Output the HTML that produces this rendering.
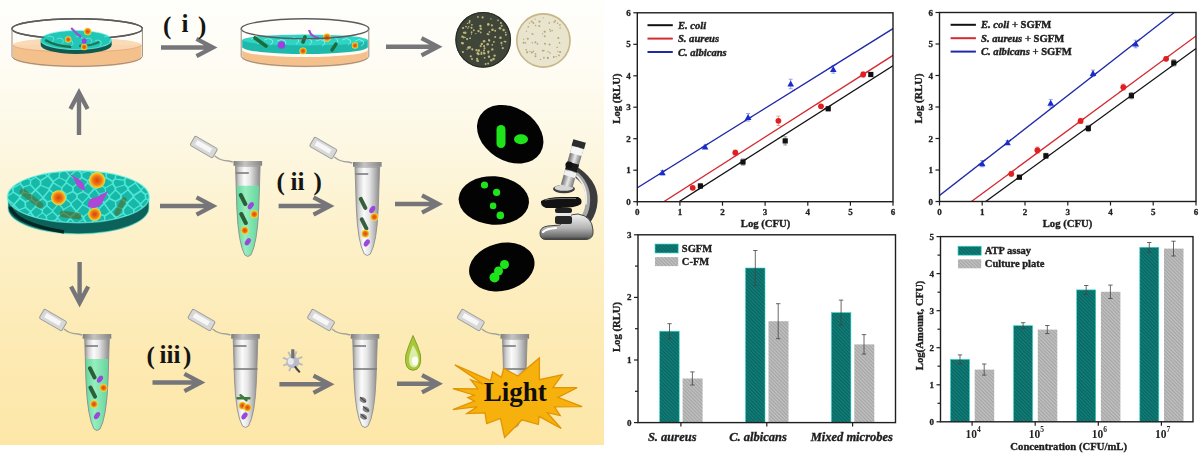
<!DOCTYPE html><html><head><meta charset="utf-8"><style>
html,body{margin:0;padding:0;background:#fff;width:1200px;height:453px;overflow:hidden}
svg{display:block;filter:blur(0.4px)}
text{font-family:"Liberation Serif", serif;}
.tk{font-size:9px;font-weight:bold;fill:#222;stroke:#222;stroke-width:0.3px}
.lg{font-size:10.6px;font-weight:bold;font-style:italic;fill:#1e1e1e;stroke:#1e1e1e;stroke-width:0.4px}
.lg .n{font-style:normal}
.lg2{font-size:10.5px;font-weight:bold;fill:#1e1e1e;stroke:#1e1e1e;stroke-width:0.35px}
.al{font-size:10.7px;font-weight:bold;fill:#1e1e1e;stroke:#1e1e1e;stroke-width:0.35px}
.cat{font-size:12.5px;font-weight:bold;font-style:italic;fill:#1e1e1e;stroke:#1e1e1e;stroke-width:0.35px}
</style></head><body>
<svg width="1200" height="453" viewBox="0 0 1200 453">
<defs>
<linearGradient id="bg" x1="0" y1="0" x2="0" y2="1">
<stop offset="0" stop-color="#fefefb"/><stop offset="0.15" stop-color="#fefcf3"/><stop offset="0.315" stop-color="#fdf8e4"/><stop offset="0.517" stop-color="#fdf1ca"/><stop offset="0.742" stop-color="#fdebb6"/><stop offset="1" stop-color="#fde7a8"/>
</linearGradient>
<pattern id="hatchT" width="2.5" height="4" patternUnits="userSpaceOnUse" patternTransform="rotate(-45)">
<rect width="2.5" height="4" fill="#107d78"/><rect width="1" height="4" fill="#0b625d"/>
</pattern>
<pattern id="hatchG" width="2.5" height="4" patternUnits="userSpaceOnUse" patternTransform="rotate(-45)">
<rect width="2.5" height="4" fill="#bfbfbf"/><rect width="1" height="4" fill="#a3a3a3"/>
</pattern>
<linearGradient id="tubeG" x1="0" y1="0" x2="1" y2="0">
<stop offset="0" stop-color="#949494"/><stop offset="0.15" stop-color="#cfcfcf"/><stop offset="0.36" stop-color="#fbfbfb"/><stop offset="0.58" stop-color="#e6e6e6"/><stop offset="0.85" stop-color="#acacac"/><stop offset="1" stop-color="#888888"/>
</linearGradient>
<linearGradient id="liqG" x1="0" y1="0" x2="1" y2="0">
<stop offset="0" stop-color="#5fd597"/><stop offset="0.4" stop-color="#95eebd"/><stop offset="1" stop-color="#62d39a"/>
</linearGradient>
<linearGradient id="rimG" x1="0" y1="0" x2="1" y2="0"><stop offset="0" stop-color="#7e7e7e"/><stop offset="0.4" stop-color="#c4c4c4"/><stop offset="1" stop-color="#848484"/></linearGradient>
<radialGradient id="orgO"><stop offset="0" stop-color="#d8400e"/><stop offset="0.55" stop-color="#ef7a12"/><stop offset="0.8" stop-color="#f6b41e"/><stop offset="1" stop-color="#e6e650"/></radialGradient>
</defs>
<rect x="0" y="0" width="604" height="445" fill="url(#bg)"/>
<polygon points="161.0,45.3 204.1,45.3 195.5,40.8 197.5,37.0 217.5,47.5 197.5,58.0 195.5,54.2 204.1,49.7 161.0,49.7" fill="#76767a"/>
<polygon points="386.0,44.5 429.1,44.5 420.5,40.0 422.5,36.2 442.5,46.7 422.5,57.2 420.5,53.4 429.1,48.9 386.0,48.9" fill="#76767a"/>
<polygon points="76.8,135.0 76.8,101.4 72.3,110.0 68.5,108.0 79.0,88.0 89.5,108.0 85.7,110.0 81.2,101.4 81.2,135.0" fill="#76767a"/>
<polygon points="160.0,203.8 204.1,203.8 195.5,199.3 197.5,195.5 217.5,206.0 197.5,216.5 195.5,212.7 204.1,208.2 160.0,208.2" fill="#76767a"/>
<polygon points="278.6,203.8 321.1,203.8 312.5,199.3 314.5,195.5 334.5,206.0 314.5,216.5 312.5,212.7 321.1,208.2 278.6,208.2" fill="#76767a"/>
<polygon points="395.0,201.8 429.6,201.8 421.0,197.3 423.0,193.5 443.0,204.0 423.0,214.5 421.0,210.7 429.6,206.2 395.0,206.2" fill="#76767a"/>
<polygon points="77.4,262.0 77.4,294.0 72.9,285.4 69.1,287.4 79.6,307.4 90.1,287.4 86.3,285.4 81.8,294.0 81.8,262.0" fill="#76767a"/>
<polygon points="152.5,380.3 192.0,380.3 183.4,375.8 185.4,372.0 205.4,382.5 185.4,393.0 183.4,389.2 192.0,384.7 152.5,384.7" fill="#76767a"/>
<polygon points="279.4,382.1 321.1,382.1 312.5,377.6 314.5,373.8 334.5,384.3 314.5,394.8 312.5,391.0 321.1,386.5 279.4,386.5" fill="#76767a"/>
<polygon points="397.0,381.6 429.6,381.6 421.0,377.1 423.0,373.3 443.0,383.8 423.0,394.3 421.0,390.5 429.6,386.0 397.0,386.0" fill="#76767a"/>
<text x="163.0" y="33.5" style="font-size:25px;font-weight:bold;fill:#141414">(</text>
<text x="181.5" y="32" style="font-size:25px;font-weight:bold;fill:#141414">i</text>
<text x="198.0" y="33.5" style="font-size:25px;font-weight:bold;fill:#141414">)</text>
<text x="276.5" y="190" style="font-size:25px;font-weight:bold;fill:#141414">(</text>
<text x="290.5" y="189.5" style="font-size:25px;font-weight:bold;fill:#141414">ii</text>
<text x="313.5" y="190" style="font-size:25px;font-weight:bold;fill:#141414">)</text>
<text x="146.5" y="364" style="font-size:25px;font-weight:bold;fill:#141414">(</text>
<text x="159.5" y="362.5" style="font-size:25px;font-weight:bold;fill:#141414">iii</text>
<text x="183.0" y="364" style="font-size:25px;font-weight:bold;fill:#141414">)</text>
<g>
<path d="M13.0,45V57.4A64.2,9.9 0 0 0 141.4,57.4V45Z" fill="#f4c08c"/>
<ellipse cx="77.2" cy="45" rx="64.2" ry="7" fill="#fad6b0"/>
<ellipse cx="77.2" cy="28.7" rx="64.2" ry="9.9" fill="#fffefb"/>
<path d="M13.0,45A64.2,7 0 0 1 141.4,45" fill="#fadbb8"/>
<path d="M13.0,45A64.2,7 0 0 0 141.4,45" fill="none" stroke="#e9ad7c" stroke-width="1"/>
<ellipse cx="77.2" cy="28.7" rx="65.2" ry="9.9" fill="none" stroke="#5c5c5c" stroke-width="1.4"/>
<path d="M40.7,40V45A35.5,9 0 0 0 111.7,45V40Z" fill="#0f5a50"/>
<ellipse cx="76.2" cy="40" rx="35.5" ry="9.5" fill="#20c6b6"/>
<ellipse cx="76.2" cy="40" rx="35.5" ry="9.5" fill="none" stroke="#7df2e6" stroke-width="1.2" opacity="0.7"/>
<path d="M47.2,37 q3,-2 6,0 q2,3 -1,5" stroke="#86f3ea" stroke-width="0.9" fill="none" opacity="0.7"/>
<path d="M56.7,39 q3,-2 6,0 q2,3 -1,5" stroke="#86f3ea" stroke-width="0.9" fill="none" opacity="0.7"/>
<path d="M66.2,41 q3,-2 6,0 q2,3 -1,5" stroke="#86f3ea" stroke-width="0.9" fill="none" opacity="0.7"/>
<path d="M75.7,37 q3,-2 6,0 q2,3 -1,5" stroke="#86f3ea" stroke-width="0.9" fill="none" opacity="0.7"/>
<path d="M85.2,39 q3,-2 6,0 q2,3 -1,5" stroke="#86f3ea" stroke-width="0.9" fill="none" opacity="0.7"/>
<path d="M94.7,41 q3,-2 6,0 q2,3 -1,5" stroke="#86f3ea" stroke-width="0.9" fill="none" opacity="0.7"/>
<path d="M104.2,37 q3,-2 6,0 q2,3 -1,5" stroke="#86f3ea" stroke-width="0.9" fill="none" opacity="0.7"/>
<path d="M45.2,40 q10,6 26,7" stroke="#1c5a33" stroke-width="2.4" fill="none" opacity="0.8"/>
<path d="M79.2,46 q12,0 20,-4" stroke="#1c5a33" stroke-width="2.4" fill="none" opacity="0.7"/>
<circle cx="87.7" cy="31.5" r="3.8" fill="url(#orgO)"/>
<circle cx="68.2" cy="39.5" r="3.2" fill="url(#orgO)"/>
<circle cx="84.2" cy="47" r="3.2" fill="url(#orgO)"/>
<path d="M71.2,28 l6,6 l4,3" stroke="#9a50d8" stroke-width="2.2" fill="none"/>
<circle cx="84.2" cy="41" r="2.6" fill="#9b40e0"/>
<path d="M12.0,28.7A65.2,9.9 0 0 1 142.4,28.7" fill="none" stroke="#5c5c5c" stroke-width="1.4"/>
<path d="M12.0,28.7A65.2,9.9 0 0 0 44.2,37.4M142.4,28.7A65.2,9.9 0 0 1 109.2,37.6" fill="none" stroke="#5c5c5c" stroke-width="1.4"/>
<path d="M12.0,28.7V56.4A65.2,9.9 0 0 0 142.4,56.4V28.7" fill="none" stroke="#9a8c80" stroke-width="1"/>
</g>
<g>
<path d="M242.2,45V57.4A62.8,9.9 0 0 0 367.8,57.4V45Z" fill="#f4c08c"/>
<ellipse cx="305" cy="45" rx="62.8" ry="7" fill="#fad6b0"/>
<path d="M242.2,28.7V50A62.8,7 0 0 0 367.8,50V28.7A62.8,9.9 0 0 1 242.2,28.7Z" fill="#fffdf8" opacity="0.95"/>
<ellipse cx="305" cy="28.7" rx="62.8" ry="9.9" fill="#fffefb"/>
<path d="M242.2,40V47A62.8,7 0 0 0 367.8,47V40Z" fill="#1fb9ab"/>
<ellipse cx="305" cy="40" rx="62.8" ry="5.5" fill="#2fd4c4"/>
<path d="M251.2,39 q4,-3 8,0 q2,3 -2,5" stroke="#8ff5ec" stroke-width="1" fill="none" opacity="0.8"/>
<path d="M264.2,40 q4,-3 8,0 q2,3 -2,5" stroke="#8ff5ec" stroke-width="1" fill="none" opacity="0.8"/>
<path d="M277.2,41 q4,-3 8,0 q2,3 -2,5" stroke="#8ff5ec" stroke-width="1" fill="none" opacity="0.8"/>
<path d="M290.2,39 q4,-3 8,0 q2,3 -2,5" stroke="#8ff5ec" stroke-width="1" fill="none" opacity="0.8"/>
<path d="M303.2,40 q4,-3 8,0 q2,3 -2,5" stroke="#8ff5ec" stroke-width="1" fill="none" opacity="0.8"/>
<path d="M316.2,41 q4,-3 8,0 q2,3 -2,5" stroke="#8ff5ec" stroke-width="1" fill="none" opacity="0.8"/>
<path d="M329.2,39 q4,-3 8,0 q2,3 -2,5" stroke="#8ff5ec" stroke-width="1" fill="none" opacity="0.8"/>
<path d="M342.2,40 q4,-3 8,0 q2,3 -2,5" stroke="#8ff5ec" stroke-width="1" fill="none" opacity="0.8"/>
<path d="M355.2,41 q4,-3 8,0 q2,3 -2,5" stroke="#8ff5ec" stroke-width="1" fill="none" opacity="0.8"/>
<circle cx="327" cy="37.5" r="4.2" fill="url(#orgO)"/>
<circle cx="303" cy="51" r="3.6" fill="url(#orgO)"/>
<circle cx="355" cy="45.5" r="3.2" fill="url(#orgO)"/>
<circle cx="281.5" cy="45" r="3.8" fill="#9b3fe0"/>
<path d="M309,30 q2,7 10,8" stroke="#a448d8" stroke-width="2.2" fill="none"/>
<path d="M255,38 l11,8" stroke="#1c6b38" stroke-width="3.6" stroke-linecap="round"/>
<path d="M303,42 l2,-5" stroke="#1c6b38" stroke-width="3.6" stroke-linecap="round"/>
<path d="M332,50 l4,-6" stroke="#1c6b38" stroke-width="3.4" stroke-linecap="round"/>
<ellipse cx="305" cy="28.7" rx="63.8" ry="9.9" fill="none" stroke="#5c5c5c" stroke-width="1.4"/>
<path d="M241.2,28.7V56.4A63.8,9.9 0 0 0 368.8,56.4V28.7" fill="none" stroke="#9a8c80" stroke-width="1"/>
</g>
<circle cx="483.2" cy="39.8" r="27.8" fill="#40453a"/>
<circle cx="483.2" cy="39.8" r="27.3" fill="none" stroke="#2a2d26" stroke-width="1.2"/>
<circle cx="543.4" cy="40.5" r="27.3" fill="#e8e4cd"/>
<circle cx="543.4" cy="40.5" r="26.6" fill="none" stroke="#c8b688" stroke-width="1.6"/>
<circle cx="484.6" cy="57.8" r="0.9" fill="#c9c27c" opacity="0.9"/>
<circle cx="467.8" cy="28.0" r="0.7" fill="#c9c27c" opacity="0.9"/>
<circle cx="505.5" cy="41.7" r="0.9" fill="#c9c27c" opacity="0.9"/>
<circle cx="485.6" cy="64.1" r="1.0" fill="#c9c27c" opacity="0.9"/>
<circle cx="491.9" cy="25.3" r="1.1" fill="#c9c27c" opacity="0.9"/>
<circle cx="494.6" cy="55.6" r="1.2" fill="#c9c27c" opacity="0.9"/>
<circle cx="462.3" cy="36.7" r="1.1" fill="#c9c27c" opacity="0.9"/>
<circle cx="502.8" cy="48.2" r="1.1" fill="#c9c27c" opacity="0.9"/>
<circle cx="481.8" cy="43.9" r="1.2" fill="#c9c27c" opacity="0.9"/>
<circle cx="462.7" cy="43.3" r="1.2" fill="#c9c27c" opacity="0.9"/>
<circle cx="477.9" cy="16.9" r="0.9" fill="#c9c27c" opacity="0.9"/>
<circle cx="488.3" cy="24.3" r="1.3" fill="#c9c27c" opacity="0.9"/>
<circle cx="488.7" cy="34.5" r="0.8" fill="#c9c27c" opacity="0.9"/>
<circle cx="488.2" cy="63.4" r="1.0" fill="#c9c27c" opacity="0.9"/>
<circle cx="473.8" cy="30.2" r="1.0" fill="#c9c27c" opacity="0.9"/>
<circle cx="472.3" cy="49.3" r="1.1" fill="#c9c27c" opacity="0.9"/>
<circle cx="463.1" cy="28.0" r="1.1" fill="#c9c27c" opacity="0.9"/>
<circle cx="503.6" cy="30.0" r="1.3" fill="#c9c27c" opacity="0.9"/>
<circle cx="478.5" cy="31.1" r="1.2" fill="#c9c27c" opacity="0.9"/>
<circle cx="505.9" cy="34.7" r="1.0" fill="#c9c27c" opacity="0.9"/>
<circle cx="480.7" cy="28.8" r="1.2" fill="#c9c27c" opacity="0.9"/>
<circle cx="471.5" cy="34.0" r="0.7" fill="#c9c27c" opacity="0.9"/>
<circle cx="498.0" cy="20.4" r="0.8" fill="#c9c27c" opacity="0.9"/>
<circle cx="488.1" cy="24.9" r="0.8" fill="#c9c27c" opacity="0.9"/>
<circle cx="477.4" cy="60.5" r="1.2" fill="#c9c27c" opacity="0.9"/>
<circle cx="501.7" cy="45.1" r="0.7" fill="#c9c27c" opacity="0.9"/>
<circle cx="480.4" cy="26.0" r="1.2" fill="#c9c27c" opacity="0.9"/>
<circle cx="500.5" cy="37.7" r="1.3" fill="#c9c27c" opacity="0.9"/>
<circle cx="480.7" cy="46.1" r="1.1" fill="#c9c27c" opacity="0.9"/>
<circle cx="493.9" cy="41.9" r="0.9" fill="#c9c27c" opacity="0.9"/>
<circle cx="475.8" cy="33.6" r="0.7" fill="#c9c27c" opacity="0.9"/>
<circle cx="492.5" cy="29.7" r="1.3" fill="#c9c27c" opacity="0.9"/>
<circle cx="495.2" cy="30.7" r="1.0" fill="#c9c27c" opacity="0.9"/>
<circle cx="463.7" cy="37.3" r="1.1" fill="#c9c27c" opacity="0.9"/>
<circle cx="465.2" cy="32.8" r="1.3" fill="#c9c27c" opacity="0.9"/>
<circle cx="467.1" cy="39.1" r="1.1" fill="#c9c27c" opacity="0.9"/>
<circle cx="484.2" cy="53.2" r="1.3" fill="#c9c27c" opacity="0.9"/>
<circle cx="465.2" cy="37.4" r="0.7" fill="#c9c27c" opacity="0.9"/>
<circle cx="467.1" cy="49.3" r="0.7" fill="#c9c27c" opacity="0.9"/>
<circle cx="468.7" cy="26.8" r="0.7" fill="#c9c27c" opacity="0.9"/>
<circle cx="471.5" cy="27.8" r="1.1" fill="#c9c27c" opacity="0.9"/>
<circle cx="470.8" cy="56.3" r="1.1" fill="#c9c27c" opacity="0.9"/>
<circle cx="489.2" cy="40.6" r="1.1" fill="#c9c27c" opacity="0.9"/>
<circle cx="495.2" cy="37.0" r="1.0" fill="#c9c27c" opacity="0.9"/>
<circle cx="471.6" cy="32.2" r="0.9" fill="#c9c27c" opacity="0.9"/>
<circle cx="477.5" cy="53.5" r="1.1" fill="#c9c27c" opacity="0.9"/>
<circle cx="478.5" cy="54.1" r="1.2" fill="#c9c27c" opacity="0.9"/>
<circle cx="501.4" cy="42.9" r="1.1" fill="#c9c27c" opacity="0.9"/>
<circle cx="478.9" cy="50.5" r="1.2" fill="#c9c27c" opacity="0.9"/>
<circle cx="484.0" cy="50.4" r="1.0" fill="#c9c27c" opacity="0.9"/>
<circle cx="480.7" cy="32.4" r="0.9" fill="#c9c27c" opacity="0.9"/>
<circle cx="472.0" cy="59.1" r="1.0" fill="#c9c27c" opacity="0.9"/>
<circle cx="489.4" cy="31.9" r="0.9" fill="#c9c27c" opacity="0.9"/>
<circle cx="469.7" cy="21.1" r="1.0" fill="#c9c27c" opacity="0.9"/>
<circle cx="484.5" cy="48.2" r="1.0" fill="#c9c27c" opacity="0.9"/>
<circle cx="491.2" cy="60.3" r="1.2" fill="#c9c27c" opacity="0.9"/>
<circle cx="488.4" cy="51.6" r="1.2" fill="#c9c27c" opacity="0.9"/>
<circle cx="469.4" cy="22.7" r="0.9" fill="#c9c27c" opacity="0.9"/>
<circle cx="492.3" cy="49.4" r="1.2" fill="#c9c27c" opacity="0.9"/>
<circle cx="481.3" cy="54.1" r="1.0" fill="#c9c27c" opacity="0.9"/>
<circle cx="469.5" cy="47.4" r="1.3" fill="#c9c27c" opacity="0.9"/>
<circle cx="484.1" cy="41.2" r="1.3" fill="#c9c27c" opacity="0.9"/>
<circle cx="500.9" cy="23.1" r="1.0" fill="#c9c27c" opacity="0.9"/>
<circle cx="505.6" cy="32.5" r="0.8" fill="#c9c27c" opacity="0.9"/>
<circle cx="482.6" cy="17.4" r="1.1" fill="#c9c27c" opacity="0.9"/>
<circle cx="470.1" cy="38.2" r="0.9" fill="#c9c27c" opacity="0.9"/>
<circle cx="484.1" cy="46.1" r="1.1" fill="#c9c27c" opacity="0.9"/>
<circle cx="478.1" cy="61.3" r="0.7" fill="#c9c27c" opacity="0.9"/>
<circle cx="500.0" cy="28.2" r="1.3" fill="#c9c27c" opacity="0.9"/>
<circle cx="501.7" cy="25.7" r="1.0" fill="#c9c27c" opacity="0.9"/>
<circle cx="504.3" cy="41.5" r="0.8" fill="#c9c27c" opacity="0.9"/>
<circle cx="477.1" cy="58.8" r="1.0" fill="#c9c27c" opacity="0.9"/>
<circle cx="462.9" cy="52.0" r="1.1" fill="#c9c27c" opacity="0.9"/>
<circle cx="476.5" cy="50.1" r="1.2" fill="#c9c27c" opacity="0.9"/>
<circle cx="461.8" cy="42.9" r="0.9" fill="#c9c27c" opacity="0.9"/>
<circle cx="489.0" cy="56.7" r="1.2" fill="#c9c27c" opacity="0.9"/>
<circle cx="493.5" cy="59.0" r="1.3" fill="#c9c27c" opacity="0.9"/>
<circle cx="490.9" cy="18.9" r="0.7" fill="#c9c27c" opacity="0.9"/>
<circle cx="467.5" cy="23.4" r="0.7" fill="#c9c27c" opacity="0.9"/>
<circle cx="481.5" cy="52.4" r="1.0" fill="#c9c27c" opacity="0.9"/>
<circle cx="468.3" cy="47.6" r="1.2" fill="#c9c27c" opacity="0.9"/>
<circle cx="488.9" cy="39.9" r="0.8" fill="#c9c27c" opacity="0.9"/>
<circle cx="487.7" cy="44.3" r="1.3" fill="#c9c27c" opacity="0.9"/>
<circle cx="487.6" cy="34.1" r="1.0" fill="#c9c27c" opacity="0.9"/>
<circle cx="477.7" cy="52.4" r="0.9" fill="#c9c27c" opacity="0.9"/>
<circle cx="471.9" cy="24.8" r="0.9" fill="#c9c27c" opacity="0.9"/>
<circle cx="488.3" cy="52.9" r="0.8" fill="#c9c27c" opacity="0.9"/>
<circle cx="463.7" cy="32.7" r="0.9" fill="#c9c27c" opacity="0.9"/>
<circle cx="492.3" cy="44.8" r="0.9" fill="#c9c27c" opacity="0.9"/>
<circle cx="466.0" cy="26.6" r="0.9" fill="#c9c27c" opacity="0.9"/>
<circle cx="549.3" cy="22.9" r="0.8" fill="#b0a070" opacity="0.9"/>
<circle cx="531.9" cy="52.4" r="1.0" fill="#b0a070" opacity="0.9"/>
<circle cx="526.2" cy="49.9" r="0.8" fill="#b0a070" opacity="0.9"/>
<circle cx="543.9" cy="57.7" r="0.9" fill="#b0a070" opacity="0.9"/>
<circle cx="557.2" cy="47.2" r="0.8" fill="#b0a070" opacity="0.9"/>
<circle cx="559.9" cy="24.9" r="0.8" fill="#b0a070" opacity="0.9"/>
<circle cx="560.1" cy="28.0" r="0.7" fill="#b0a070" opacity="0.9"/>
<circle cx="535.4" cy="42.3" r="1.0" fill="#b0a070" opacity="0.9"/>
<circle cx="531.8" cy="21.6" r="1.0" fill="#b0a070" opacity="0.9"/>
<circle cx="533.4" cy="23.0" r="0.9" fill="#b0a070" opacity="0.9"/>
<circle cx="557.8" cy="51.4" r="0.6" fill="#b0a070" opacity="0.9"/>
<circle cx="556.2" cy="56.7" r="0.6" fill="#b0a070" opacity="0.9"/>
<circle cx="549.6" cy="44.5" r="1.0" fill="#b0a070" opacity="0.9"/>
<circle cx="545.0" cy="43.8" r="1.0" fill="#b0a070" opacity="0.9"/>
<circle cx="559.0" cy="55.4" r="0.9" fill="#b0a070" opacity="0.9"/>
<circle cx="555.2" cy="20.8" r="0.9" fill="#b0a070" opacity="0.9"/>
<circle cx="544.7" cy="36.2" r="1.0" fill="#b0a070" opacity="0.9"/>
<circle cx="523.6" cy="39.1" r="0.7" fill="#b0a070" opacity="0.9"/>
<circle cx="543.2" cy="17.8" r="0.6" fill="#b0a070" opacity="0.9"/>
<circle cx="535.5" cy="56.3" r="1.0" fill="#b0a070" opacity="0.9"/>
<circle cx="543.9" cy="50.5" r="0.7" fill="#b0a070" opacity="0.9"/>
<circle cx="528.2" cy="26.9" r="0.8" fill="#b0a070" opacity="0.9"/>
<circle cx="533.4" cy="51.4" r="0.8" fill="#b0a070" opacity="0.9"/>
<circle cx="537.5" cy="43.8" r="0.9" fill="#b0a070" opacity="0.9"/>
<circle cx="558.3" cy="38.0" r="1.0" fill="#b0a070" opacity="0.9"/>
<circle cx="553.8" cy="57.0" r="1.0" fill="#b0a070" opacity="0.9"/>
<circle cx="535.6" cy="25.5" r="0.8" fill="#b0a070" opacity="0.9"/>
<circle cx="529.5" cy="23.1" r="0.7" fill="#b0a070" opacity="0.9"/>
<circle cx="560.1" cy="52.0" r="1.1" fill="#b0a070" opacity="0.9"/>
<circle cx="527.8" cy="38.8" r="1.0" fill="#b0a070" opacity="0.9"/>
<circle cx="548.1" cy="51.7" r="0.7" fill="#b0a070" opacity="0.9"/>
<circle cx="532.1" cy="33.7" r="0.7" fill="#b0a070" opacity="0.9"/>
<circle cx="535.1" cy="19.1" r="0.7" fill="#b0a070" opacity="0.9"/>
<circle cx="539.2" cy="26.0" r="1.0" fill="#b0a070" opacity="0.9"/>
<circle cx="532.9" cy="34.3" r="0.7" fill="#b0a070" opacity="0.9"/>
<circle cx="559.5" cy="42.9" r="0.8" fill="#b0a070" opacity="0.9"/>
<circle cx="550.0" cy="53.0" r="0.8" fill="#b0a070" opacity="0.9"/>
<circle cx="544.7" cy="31.7" r="1.1" fill="#b0a070" opacity="0.9"/>
<circle cx="525.4" cy="42.8" r="0.8" fill="#b0a070" opacity="0.9"/>
<circle cx="554.2" cy="22.1" r="0.9" fill="#b0a070" opacity="0.9"/>
<circle cx="523.6" cy="42.8" r="1.0" fill="#b0a070" opacity="0.9"/>
<circle cx="527.1" cy="52.3" r="1.1" fill="#b0a070" opacity="0.9"/>
<circle cx="532.4" cy="42.8" r="0.7" fill="#b0a070" opacity="0.9"/>
<circle cx="539.5" cy="21.6" r="1.1" fill="#b0a070" opacity="0.9"/>
<circle cx="550.4" cy="31.3" r="0.7" fill="#b0a070" opacity="0.9"/>
<circle cx="542.8" cy="50.7" r="1.0" fill="#b0a070" opacity="0.9"/>
<circle cx="557.5" cy="23.2" r="0.7" fill="#b0a070" opacity="0.9"/>
<circle cx="552.1" cy="30.6" r="0.8" fill="#b0a070" opacity="0.9"/>
<circle cx="542.5" cy="33.7" r="0.6" fill="#b0a070" opacity="0.9"/>
<circle cx="549.8" cy="29.5" r="0.8" fill="#b0a070" opacity="0.9"/>
<circle cx="526.5" cy="31.2" r="0.6" fill="#b0a070" opacity="0.9"/>
<circle cx="535.5" cy="53.9" r="0.8" fill="#b0a070" opacity="0.9"/>
<circle cx="547.9" cy="57.9" r="1.1" fill="#b0a070" opacity="0.9"/>
<circle cx="530.0" cy="51.5" r="0.7" fill="#b0a070" opacity="0.9"/>
<circle cx="540.4" cy="59.4" r="0.7" fill="#b0a070" opacity="0.9"/>
<g>
<path d="M8,197 V208 A70.5,26 0 0 0 149,208 V197 Z" fill="#0b625a" stroke="#72f0e2" stroke-width="1.3" stroke-opacity="0.55"/>
<path d="M10,207 Q16,224 64,232" stroke="#04201d" stroke-width="3.6" fill="none" opacity="0.9"/>
<ellipse cx="78.3" cy="196.7" rx="71" ry="26.1" fill="#4fe6d6"/>
<clipPath id="discclip"><ellipse cx="78.3" cy="196.7" rx="70.3" ry="25.5"/></clipPath>
<g clip-path="url(#discclip)">
<polygon points="25.2,171.7 18.9,169.1 21.7,66.8 28.4,168.3" fill="#18b8a8"/>
<polygon points="47.8,175.0 51.8,168.0 48.3,142.4 41.4,169.5 47.3,175.0" fill="#18b8a8"/>
<polygon points="54.1,167.7 59.8,171.5 64.3,169.8 73.6,119.5 75.9,84.7 77.9,-13.2 70.0,-814.2 50.6,142.1" fill="#18b8a8"/>
<polygon points="70.1,174.6 76.5,169.2 75.3,119.9 66.0,170.1 70.0,174.6" fill="#18b8a8"/>
<polygon points="81.9,172.8 88.4,170.1 79.8,85.0 77.5,119.8 78.7,169.1" fill="#18b8a8"/>
<polygon points="93.9,174.0 89.9,170.0 81.2,84.9 83.2,-13.1 99.0,168.6" fill="#18b8a8"/>
<polygon points="110.9,168.5 106.1,171.5 101.1,168.4 85.2,-13.3 77.4,-814.2 188.0,-193559.4 116.5,56.7" fill="#18b8a8"/>
<polygon points="116.5,171.9 112.6,168.6 118.3,56.8 122.9,169.7" fill="#18b8a8"/>
<polygon points="136.0,170.5 145.1,125.0 144.8,170.9 139.0,174.1" fill="#18b8a8"/>
<polygon points="14.1,176.3 14.0,172.9 8.8,169.7 4.2,175.1 8.8,179.4" fill="#18b8a8"/>
<polygon points="20.2,179.1 24.4,176.2 24.8,172.7 18.5,170.1 15.7,172.9 15.8,176.3" fill="#18b8a8"/>
<polygon points="30.6,179.4 26.1,176.4 26.5,172.9 29.7,169.5 34.9,172.8 35.0,176.9" fill="#18b8a8"/>
<polygon points="46.5,175.9 40.6,179.7 36.6,176.9 36.5,172.8 40.6,170.4" fill="#18b8a8"/>
<polygon points="58.5,177.0 59.0,172.7 53.3,168.9 49.3,175.8 53.4,180.4" fill="#18b8a8"/>
<polygon points="68.9,175.7 64.8,171.2 60.3,172.9 59.8,177.2 65.9,180.3" fill="#18b8a8"/>
<polygon points="81.0,177.3 80.6,173.9 77.4,170.3 71.0,175.7 77.3,180.1" fill="#18b8a8"/>
<polygon points="87.5,179.9 92.9,175.6 92.9,175.1 88.8,171.1 82.3,173.7 82.7,177.1" fill="#18b8a8"/>
<polygon points="95.2,175.7 95.2,175.1 100.2,169.8 105.3,172.9 105.6,177.3 100.0,180.6" fill="#18b8a8"/>
<polygon points="114.4,178.3 112.4,180.2 107.2,177.2 106.9,172.8 111.7,169.7 115.5,173.0" fill="#18b8a8"/>
<polygon points="125.3,176.8 125.2,173.1 123.4,171.1 116.9,173.3 115.9,178.6 123.8,179.6" fill="#18b8a8"/>
<polygon points="127.2,176.8 135.2,179.9 137.5,177.1 137.6,175.3 134.6,171.6 127.1,173.0" fill="#18b8a8"/>
<polygon points="139.6,177.1 145.8,180.7 149.9,176.6 149.9,175.2 145.4,172.1 139.6,175.3" fill="#18b8a8"/>
<polygon points="7.3,183.9 0.9,187.7 -117.8,164.7 3.1,176.3 7.6,180.6" fill="#18b8a8"/>
<polygon points="13.0,187.3 9.3,184.1 9.6,180.8 14.9,177.8 19.3,180.5 19.5,183.8" fill="#18b8a8"/>
<polygon points="21.3,183.7 21.1,180.4 25.4,177.5 29.9,180.5 29.7,184.4 23.7,186.3" fill="#18b8a8"/>
<polygon points="35.6,188.8 39.7,184.8 39.7,181.0 35.7,178.1 31.3,180.6 31.2,184.5 35.4,188.9" fill="#18b8a8"/>
<polygon points="52.0,182.7 48.7,187.8 41.4,184.9 41.5,181.0 47.4,177.2 47.8,177.1 51.9,181.7" fill="#18b8a8"/>
<polygon points="65.4,182.6 65.3,181.3 59.2,178.2 54.2,181.6 54.2,182.5 61.5,187.0" fill="#18b8a8"/>
<polygon points="76.3,183.5 76.7,181.0 70.4,176.6 70.3,176.6 67.3,181.3 67.3,182.5 72.9,186.3" fill="#18b8a8"/>
<polygon points="77.8,183.8 78.2,181.3 81.9,178.4 86.7,181.2 86.8,182.8 82.8,187.1" fill="#18b8a8"/>
<polygon points="88.6,182.8 93.9,188.2 94.9,188.1 98.7,184.1 98.8,181.8 93.9,176.9 88.6,181.2" fill="#18b8a8"/>
<polygon points="111.7,183.8 105.4,187.3 100.7,184.2 100.8,181.9 106.4,178.7 111.6,181.7" fill="#18b8a8"/>
<polygon points="124.2,184.6 123.7,180.7 115.7,179.7 113.8,181.6 113.9,183.7 116.1,187.1" fill="#18b8a8"/>
<polygon points="128.2,186.8 134.6,182.8 134.9,180.8 126.8,177.6 125.4,180.4 125.9,184.3" fill="#18b8a8"/>
<polygon points="139.0,178.2 145.1,181.8 145.3,184.0 141.0,188.9 136.3,183.1 136.7,181.1" fill="#18b8a8"/>
<polygon points="146.9,183.8 146.7,181.7 150.9,177.6 156.1,182.4 152.0,186.6" fill="#18b8a8"/>
<polygon points="11.9,188.6 8.2,185.3 1.7,189.1 6.3,196.2 12.3,191.9" fill="#18b8a8"/>
<polygon points="13.6,188.4 20.0,184.8 22.5,187.4 22.4,191.9 19.5,195.3 14.0,191.7" fill="#18b8a8"/>
<polygon points="24.0,191.9 31.2,193.1 34.3,189.9 30.1,185.5 24.0,187.4" fill="#18b8a8"/>
<polygon points="43.0,196.5 36.8,190.1 40.9,186.1 48.2,189.1 48.3,190.0" fill="#18b8a8"/>
<polygon points="60.8,190.3 55.5,194.0 50.4,189.8 50.3,188.8 53.5,183.7 60.8,188.1" fill="#18b8a8"/>
<polygon points="72.1,187.4 66.6,183.7 62.6,188.0 62.7,190.2 66.6,193.6 72.1,191.1" fill="#18b8a8"/>
<polygon points="77.2,184.6 82.3,188.0 82.3,191.2 77.2,193.7 73.9,191.1 73.8,187.4" fill="#18b8a8"/>
<polygon points="83.8,187.9 87.7,183.7 93.0,189.1 88.4,193.9 83.8,191.2" fill="#18b8a8"/>
<polygon points="96.2,189.3 100.0,185.3 104.6,188.4 105.0,191.9 99.5,193.6" fill="#18b8a8"/>
<polygon points="114.5,188.1 112.2,184.8 105.9,188.2 106.2,191.7 109.4,194.9 114.5,189.9" fill="#18b8a8"/>
<polygon points="127.0,189.7 121.0,194.1 116.4,189.9 116.4,188.1 124.5,185.6 126.9,188.1" fill="#18b8a8"/>
<polygon points="129.1,189.6 133.7,194.6 139.9,190.6 139.9,189.7 135.3,183.9 128.9,187.9" fill="#18b8a8"/>
<polygon points="142.0,190.6 145.6,193.6 151.6,191.0 151.4,187.6 146.3,184.9 142.0,189.8" fill="#18b8a8"/>
<polygon points="153.1,190.9 152.9,187.5 157.0,183.4 737.7,171.9 635.1,177.1 158.4,194.9" fill="#18b8a8"/>
<polygon points="13.1,193.1 7.1,197.4 7.1,197.9 13.8,203.4 18.7,198.0 18.6,196.6" fill="#18b8a8"/>
<polygon points="20.9,196.5 21.0,197.8 25.5,201.1 30.8,199.0 31.0,194.3 23.8,193.0" fill="#18b8a8"/>
<polygon points="42.0,197.5 35.7,191.2 35.6,191.2 32.5,194.3 32.2,199.1 35.9,202.2 42.0,198.0" fill="#18b8a8"/>
<polygon points="54.5,195.2 49.4,190.9 44.2,197.4 44.2,197.9 47.4,201.0 54.5,198.9" fill="#18b8a8"/>
<polygon points="65.6,194.8 65.2,198.6 59.1,201.9 56.2,198.9 56.3,195.2 61.6,191.5" fill="#18b8a8"/>
<polygon points="72.8,192.5 67.2,195.0 66.9,198.7 71.1,202.4 76.1,197.9 76.1,195.1" fill="#18b8a8"/>
<polygon points="77.8,195.1 77.9,197.9 82.5,202.1 87.8,196.7 87.6,195.3 83.0,192.6" fill="#18b8a8"/>
<polygon points="95.2,190.1 94.2,190.3 89.6,195.0 89.8,196.4 93.5,199.8 98.3,198.5 98.5,194.4" fill="#18b8a8"/>
<polygon points="99.8,194.4 99.6,198.5 104.2,201.7 108.4,198.0 108.4,195.9 105.3,192.7" fill="#18b8a8"/>
<polygon points="115.5,190.9 110.4,195.9 110.3,198.0 115.5,200.6 120.0,198.0 120.1,195.2" fill="#18b8a8"/>
<polygon points="127.7,190.8 132.4,195.8 132.2,196.9 127.1,201.9 121.8,198.0 121.8,195.2" fill="#18b8a8"/>
<polygon points="140.5,203.1 145.0,198.6 144.5,195.0 140.9,192.0 134.6,196.1 134.5,197.2" fill="#18b8a8"/>
<polygon points="151.9,201.1 157.4,196.2 152.1,192.1 146.1,194.7 146.6,198.4" fill="#18b8a8"/>
<polygon points="12.9,204.5 6.2,198.9 1.0,203.7 8.1,209.2 12.9,204.9" fill="#18b8a8"/>
<polygon points="15.0,204.6 20.0,199.2 24.4,202.5 24.7,207.1 19.1,209.3 15.0,205.0" fill="#18b8a8"/>
<polygon points="30.5,210.6 26.3,207.0 26.0,202.4 31.3,200.3 34.9,203.3 34.8,206.4" fill="#18b8a8"/>
<polygon points="42.0,209.0 46.0,205.4 46.0,202.4 42.8,199.2 36.7,203.4 36.6,206.4" fill="#18b8a8"/>
<polygon points="57.7,203.2 54.9,200.3 47.8,202.4 47.8,205.5 52.6,209.7 57.7,203.7" fill="#18b8a8"/>
<polygon points="63.8,208.7 59.8,203.6 59.8,203.1 65.9,199.9 70.1,203.5 70.2,205.1" fill="#18b8a8"/>
<polygon points="76.5,210.2 81.7,204.5 81.6,203.0 77.0,198.9 71.9,203.3 72.1,204.9" fill="#18b8a8"/>
<polygon points="88.7,197.6 92.4,201.0 91.8,205.4 89.4,207.5 83.5,204.4 83.4,202.9" fill="#18b8a8"/>
<polygon points="103.2,203.0 98.7,199.8 93.8,201.2 93.3,205.6 98.8,207.7 103.2,203.6" fill="#18b8a8"/>
<polygon points="110.7,211.0 115.1,206.3 114.8,202.1 109.6,199.5 105.4,203.2 105.4,203.8 110.5,211.0" fill="#18b8a8"/>
<polygon points="126.1,203.2 120.8,199.3 116.2,201.9 116.6,206.2 122.8,208.3 126.1,204.3" fill="#18b8a8"/>
<polygon points="139.5,204.9 133.9,208.7 128.3,204.3 128.3,203.2 133.5,198.3 139.5,204.2" fill="#18b8a8"/>
<polygon points="141.5,204.8 145.8,209.6 146.9,209.7 151.3,205.0 151.3,202.3 146.0,199.6 141.5,204.1" fill="#18b8a8"/>
<polygon points="153.0,205.0 161.6,210.2 635.2,179.6 158.5,197.4 153.0,202.3" fill="#18b8a8"/>
<polygon points="7.2,211.8 7.4,210.2 0.2,204.7 -46.7,214.6 1.6,216.7" fill="#18b8a8"/>
<polygon points="13.9,206.0 9.1,210.3 9.0,212.0 13.4,215.6 17.8,212.8 18.0,210.3" fill="#18b8a8"/>
<polygon points="29.5,212.6 23.3,217.2 19.3,213.0 19.5,210.5 25.2,208.3 29.4,211.8" fill="#18b8a8"/>
<polygon points="41.7,212.8 35.5,217.4 31.7,212.6 31.7,211.8 36.0,207.6 41.4,210.2" fill="#18b8a8"/>
<polygon points="43.2,212.6 46.4,215.2 51.8,211.6 51.7,210.7 46.9,206.4 42.9,210.0" fill="#18b8a8"/>
<polygon points="62.7,209.6 58.7,204.5 53.6,210.5 53.6,211.4 57.7,215.4 62.5,212.2" fill="#18b8a8"/>
<polygon points="64.3,209.7 70.7,206.0 75.2,211.3 75.2,211.5 70.3,216.1 64.2,212.2" fill="#18b8a8"/>
<polygon points="77.7,211.3 82.9,205.6 88.8,208.7 88.7,211.9 83.6,216.0 77.7,211.5" fill="#18b8a8"/>
<polygon points="90.5,208.7 92.9,206.6 98.4,208.8 98.5,213.5 95.5,215.3 90.4,211.9" fill="#18b8a8"/>
<polygon points="109.3,211.9 104.5,215.0 99.9,213.5 99.8,208.7 104.1,204.7" fill="#18b8a8"/>
<polygon points="122.5,213.0 116.0,216.5 111.8,212.0 116.2,207.3 122.4,209.4" fill="#18b8a8"/>
<polygon points="127.5,205.4 124.2,209.4 124.2,213.0 127.8,216.0 133.0,212.9 133.0,209.8" fill="#18b8a8"/>
<polygon points="140.3,206.0 144.5,210.7 139.4,216.4 134.6,212.9 134.6,209.8" fill="#18b8a8"/>
<polygon points="148.0,210.7 152.5,215.9 161.0,211.2 152.4,206.0" fill="#18b8a8"/>
<polygon points="12.5,220.2 8.8,223.6 2.6,217.9 8.2,213.0 12.6,216.5" fill="#18b8a8"/>
<polygon points="22.4,218.0 18.4,213.8 14.0,216.6 13.9,220.2 20.8,222.0 22.0,220.5" fill="#18b8a8"/>
<polygon points="30.3,213.8 24.1,218.3 23.8,220.7 30.9,222.9 34.1,218.9 34.0,218.5" fill="#18b8a8"/>
<polygon points="42.4,213.6 45.6,216.3 45.6,219.4 40.9,222.1 36.2,218.6 36.1,218.2" fill="#18b8a8"/>
<polygon points="56.6,216.6 52.5,212.6 47.1,216.2 47.2,219.3 51.8,222.5 56.5,218.0" fill="#18b8a8"/>
<polygon points="63.4,213.5 58.6,216.7 58.5,218.2 64.6,223.6 69.4,218.6 69.6,217.4" fill="#18b8a8"/>
<polygon points="71.7,217.6 71.6,218.9 75.8,223.3 82.7,219.3 82.4,217.4 76.6,213.0" fill="#18b8a8"/>
<polygon points="84.5,217.1 84.8,219.0 88.4,224.2 94.3,219.2 94.8,216.4 89.7,213.1" fill="#18b8a8"/>
<polygon points="96.4,216.7 99.4,214.9 104.0,216.5 104.1,221.4 100.7,223.5 95.9,219.5" fill="#18b8a8"/>
<polygon points="110.4,213.3 114.6,217.8 114.7,219.0 109.7,223.8 105.5,221.3 105.4,216.5 110.2,213.3" fill="#18b8a8"/>
<polygon points="122.6,225.6 116.7,218.9 116.7,217.8 123.2,214.3 126.8,217.3 126.9,219.2" fill="#18b8a8"/>
<polygon points="133.7,214.1 128.6,217.2 128.6,219.2 134.4,222.5 138.7,220.1 138.5,217.6" fill="#18b8a8"/>
<polygon points="140.5,217.4 140.7,219.9 145.1,223.6 151.1,218.3 151.3,217.0 146.7,211.8 145.6,211.7" fill="#18b8a8"/>
<polygon points="13.6,221.4 9.9,224.8 12.0,1039.4 20.4,223.2" fill="#18b8a8"/>
<polygon points="23.5,221.7 22.2,223.2 13.8,1039.4 7.0,3194.5 44.3,1090.1 44.4,1052.2 30.6,223.8" fill="#18b8a8"/>
<polygon points="32.1,223.8 45.8,1052.1 48.4,606.9 40.0,223.3 35.2,219.8" fill="#18b8a8"/>
<polygon points="55.0,313.2 50.9,223.8 46.3,220.6 41.6,223.3 50.0,606.8" fill="#18b8a8"/>
<polygon points="63.7,224.6 57.0,313.1 52.9,223.7 57.6,219.2" fill="#18b8a8"/>
<polygon points="70.6,219.8 74.9,224.2 82.0,310.1 51.4,1090.1 51.5,1052.2 54.1,606.9 59.1,313.2 65.7,224.8" fill="#18b8a8"/>
<polygon points="86.8,225.4 87.0,267.8 83.5,309.9 76.3,224.1 83.2,220.1" fill="#18b8a8"/>
<polygon points="95.2,220.4 100.1,224.3 89.5,267.8 89.4,225.4" fill="#18b8a8"/>
<polygon points="121.5,226.6 115.6,219.9 110.6,224.8 120.5,296.2 123.1,251.2" fill="#18b8a8"/>
<polygon points="123.8,226.5 128.1,220.1 133.9,223.4 125.5,251.1" fill="#18b8a8"/>
</g>
<ellipse cx="78.3" cy="196.7" rx="71" ry="26.1" fill="none" stroke="#6ff2e4" stroke-width="1.3" opacity="0.6"/>
<circle cx="97.1" cy="180.3" r="8.2" fill="url(#orgO)"/>
<circle cx="58.5" cy="197.7" r="7.5" fill="url(#orgO)"/>
<circle cx="94.7" cy="214.3" r="6.5" fill="url(#orgO)"/>
<path d="M66,172 q8,4 10,12 q5,7 9,6 q0,-9 -10,-13 z" fill="#ae46d6"/>
<path d="M88,207 q-1,-9 9,-10 l11,-6 l-4,8 q-3,9 -12,9 z" fill="#ae46d6"/>
<path d="M23,192 l17,13" stroke="#4f6a2a" stroke-width="6.5" stroke-linecap="round" opacity="0.6"/>
<path d="M63,214 l15,2" stroke="#4f6a2a" stroke-width="6.5" stroke-linecap="round" opacity="0.65"/>
<path d="M117,213 l7,-13" stroke="#4f6a2a" stroke-width="5.5" stroke-linecap="round" opacity="0.6"/>
</g>
<g>
<g transform="translate(203.8,147) rotate(30)"><rect x="-13" y="-5.3" width="26" height="10.6" rx="1.5" fill="#d8d8d8" stroke="#9c9c9c" stroke-width="1"/><rect x="-9" y="-3" width="17" height="5" fill="#f7f7f7"/></g>
<path d="M214.8,156 q6,5 14,5 l4,1" stroke="#a0a0a0" stroke-width="1.4" fill="none"/>
<path d="M235.5,166 H260.1 L258.8,207.6 Q257.3,243.7 250.8,255 Q247.8,258 244.8,255 Q238.3,243.7 236.8,207.6 Z" fill="url(#tubeG)"/>
<clipPath id="cl247_162"><rect x="227.8" y="185.75" width="40" height="95"/></clipPath>
<path d="M235.5,166 H260.1 L258.8,207.6 Q257.3,243.7 250.8,255 Q247.8,258 244.8,255 Q238.3,243.7 236.8,207.6 Z" fill="url(#liqG)" clip-path="url(#cl247_162)"/>
<path d="M235.5,166 H260.1 L258.8,207.6 Q257.3,243.7 250.8,255 Q247.8,258 244.8,255 Q238.3,243.7 236.8,207.6 Z" fill="none" stroke="#8e8e8e" stroke-width="0.9"/>
<path d="M235.8,173 H248.8" stroke="#7c7c7c" stroke-width="1.6"/>
<path d="M240.8,195.0 l4.5,9" stroke="#22502a" stroke-width="4" stroke-linecap="round" opacity="0.9"/>
<ellipse cx="250.8" cy="205.7" rx="2.4" ry="4" transform="rotate(35 250.8 205.7)" fill="#9a48d8"/>
<circle cx="254.3" cy="214.25" r="3.9" fill="url(#orgO)"/>
<path d="M241.3,214.0 l4.5,9" stroke="#22502a" stroke-width="4" stroke-linecap="round" opacity="0.9"/>
<circle cx="244.8" cy="230.39999999999998" r="3.9" fill="url(#orgO)"/>
<ellipse cx="247.8" cy="241.8" rx="2.4" ry="4" transform="rotate(35 247.8 241.8)" fill="#9a48d8"/>
<rect x="233.5" y="161" width="28.6" height="4.8" fill="url(#rimG)"/>
</g>
<g>
<g transform="translate(323.3,148) rotate(30)"><rect x="-13" y="-5.3" width="26" height="10.6" rx="1.5" fill="#d8d8d8" stroke="#9c9c9c" stroke-width="1"/><rect x="-9" y="-3" width="17" height="5" fill="#f7f7f7"/></g>
<path d="M334.3,157 q6,5 14,5 l4,1" stroke="#a0a0a0" stroke-width="1.4" fill="none"/>
<path d="M355.0,167 H379.6 L378.3,207.6 Q376.8,243.0 370.3,254 Q367.3,257 364.3,254 Q357.8,243.0 356.3,207.6 Z" fill="url(#tubeG)"/>
<path d="M355.0,167 H379.6 L378.3,207.6 Q376.8,243.0 370.3,254 Q367.3,257 364.3,254 Q357.8,243.0 356.3,207.6 Z" fill="none" stroke="#8e8e8e" stroke-width="0.9"/>
<path d="M355.3,174 H368.3" stroke="#7c7c7c" stroke-width="1.6"/>
<path d="M360.8,198.92000000000002 l4.5,9" stroke="#22502a" stroke-width="4" stroke-linecap="round" opacity="0.9"/>
<ellipse cx="372.3" cy="209.5" rx="2.4" ry="4" transform="rotate(35 372.3 209.5)" fill="#9a48d8"/>
<circle cx="374.3" cy="216.94" r="3.9" fill="url(#orgO)"/>
<path d="M361.8,219.38 l4.5,9" stroke="#22502a" stroke-width="4" stroke-linecap="round" opacity="0.9"/>
<circle cx="365.3" cy="233.68" r="3.9" fill="url(#orgO)"/>
<ellipse cx="366.8" cy="242.98000000000002" rx="2.4" ry="4" transform="rotate(35 366.8 242.98000000000002)" fill="#9a48d8"/>
<rect x="353.0" y="162" width="28.6" height="4.8" fill="url(#rimG)"/>
</g>
<g>
<g transform="translate(53,320) rotate(30)"><rect x="-13" y="-5.3" width="26" height="10.6" rx="1.5" fill="#d8d8d8" stroke="#9c9c9c" stroke-width="1"/><rect x="-9" y="-3" width="17" height="5" fill="#f7f7f7"/></g>
<path d="M64,329 q6,5 14,5 l4,1" stroke="#a0a0a0" stroke-width="1.4" fill="none"/>
<path d="M84.7,339 H109.3 L108,381.1 Q106.5,417.6 100,429 Q97,432 94,429 Q87.5,417.6 86,381.1 Z" fill="url(#tubeG)"/>
<clipPath id="cl97_335"><rect x="77" y="359.0" width="40" height="96"/></clipPath>
<path d="M84.7,339 H109.3 L108,381.1 Q106.5,417.6 100,429 Q97,432 94,429 Q87.5,417.6 86,381.1 Z" fill="url(#liqG)" clip-path="url(#cl97_335)"/>
<path d="M84.7,339 H109.3 L108,381.1 Q106.5,417.6 100,429 Q97,432 94,429 Q87.5,417.6 86,381.1 Z" fill="none" stroke="#8e8e8e" stroke-width="0.9"/>
<path d="M85,346 H98" stroke="#7c7c7c" stroke-width="1.6"/>
<path d="M90.0,368.4 l4.5,9" stroke="#22502a" stroke-width="4" stroke-linecap="round" opacity="0.9"/>
<ellipse cx="100" cy="379.16" rx="2.4" ry="4" transform="rotate(35 100 379.16)" fill="#9a48d8"/>
<circle cx="103.5" cy="387.8" r="3.9" fill="url(#orgO)"/>
<path d="M90.5,387.6 l4.5,9" stroke="#22502a" stroke-width="4" stroke-linecap="round" opacity="0.9"/>
<circle cx="94" cy="404.12" r="3.9" fill="url(#orgO)"/>
<ellipse cx="97" cy="415.64" rx="2.4" ry="4" transform="rotate(35 97 415.64)" fill="#9a48d8"/>
<rect x="82.7" y="334" width="28.6" height="4.8" fill="url(#rimG)"/>
</g>
<g>
<g transform="translate(201.5,320) rotate(30)"><rect x="-13" y="-5.3" width="26" height="10.6" rx="1.5" fill="#d8d8d8" stroke="#9c9c9c" stroke-width="1"/><rect x="-9" y="-3" width="17" height="5" fill="#f7f7f7"/></g>
<path d="M212.5,329 q6,5 14,5 l4,1" stroke="#a0a0a0" stroke-width="1.4" fill="none"/>
<path d="M233.2,339 H257.8 L256.5,379.6 Q255.0,415.0 248.5,426 Q245.5,429 242.5,426 Q236.0,415.0 234.5,379.6 Z" fill="url(#tubeG)"/>
<path d="M233.2,339 H257.8 L256.5,379.6 Q255.0,415.0 248.5,426 Q245.5,429 242.5,426 Q236.0,415.0 234.5,379.6 Z" fill="none" stroke="#8e8e8e" stroke-width="0.9"/>
<path d="M233.5,346 H246.5" stroke="#7c7c7c" stroke-width="1.6"/>
<path d="M233.5,369 H257.5" stroke="#7c7c7c" stroke-width="1.6"/>
<path d="M237.5,398.24 l12,0 M240.5,395.24 l6,5" stroke="#3c7a3a" stroke-width="2.4" stroke-linecap="round"/>
<circle cx="242.5" cy="405.68" r="3.9" fill="url(#orgO)"/>
<circle cx="247.5" cy="407.54" r="3.9" fill="url(#orgO)"/>
<ellipse cx="244.5" cy="415.90999999999997" rx="2.4" ry="4" transform="rotate(35 244.5 415.90999999999997)" fill="#9a48d8"/>
<rect x="231.2" y="334" width="28.6" height="4.8" fill="url(#rimG)"/>
</g>
<g>
<g transform="translate(321,320) rotate(30)"><rect x="-13" y="-5.3" width="26" height="10.6" rx="1.5" fill="#d8d8d8" stroke="#9c9c9c" stroke-width="1"/><rect x="-9" y="-3" width="17" height="5" fill="#f7f7f7"/></g>
<path d="M332,329 q6,5 14,5 l4,1" stroke="#a0a0a0" stroke-width="1.4" fill="none"/>
<path d="M352.7,339 H377.3 L376,379.6 Q374.5,415.0 368,426 Q365,429 362,426 Q355.5,415.0 354,379.6 Z" fill="url(#tubeG)"/>
<path d="M352.7,339 H377.3 L376,379.6 Q374.5,415.0 368,426 Q365,429 362,426 Q355.5,415.0 354,379.6 Z" fill="none" stroke="#8e8e8e" stroke-width="0.9"/>
<path d="M353,346 H366" stroke="#7c7c7c" stroke-width="1.6"/>
<path d="M353,369 H377" stroke="#7c7c7c" stroke-width="1.6"/>
<ellipse cx="363" cy="400.1" rx="3.5" ry="2.6" transform="rotate(30 363 400.1)" fill="#6e6e6e" opacity="0.85"/><path d="M360,397.1 l6,5" stroke="#444" stroke-width="1.2"/>
<ellipse cx="366" cy="409.4" rx="3.5" ry="2.6" transform="rotate(30 366 409.4)" fill="#6e6e6e" opacity="0.85"/><path d="M363,406.4 l6,5" stroke="#444" stroke-width="1.2"/>
<ellipse cx="363.5" cy="416.84000000000003" rx="3.5" ry="2.6" transform="rotate(30 363.5 416.84000000000003)" fill="#6e6e6e" opacity="0.85"/><path d="M360.5,413.84000000000003 l6,5" stroke="#444" stroke-width="1.2"/>
<rect x="350.7" y="334" width="28.6" height="4.8" fill="url(#rimG)"/>
</g>
<g>
<g transform="translate(470.79999999999995,320) rotate(30)"><rect x="-13" y="-5.3" width="26" height="10.6" rx="1.5" fill="#d8d8d8" stroke="#9c9c9c" stroke-width="1"/><rect x="-9" y="-3" width="17" height="5" fill="#f7f7f7"/></g>
<path d="M481.79999999999995,329 q6,5 14,5 l4,1" stroke="#a0a0a0" stroke-width="1.4" fill="none"/>
<path d="M502.49999999999994,339 H527.0999999999999 L525.8,379.6 Q524.3,415.0 517.8,426 Q514.8,429 511.79999999999995,426 Q505.29999999999995,415.0 503.79999999999995,379.6 Z" fill="url(#tubeG)"/>
<path d="M502.49999999999994,339 H527.0999999999999 L525.8,379.6 Q524.3,415.0 517.8,426 Q514.8,429 511.79999999999995,426 Q505.29999999999995,415.0 503.79999999999995,379.6 Z" fill="none" stroke="#8e8e8e" stroke-width="0.9"/>
<path d="M502.79999999999995,346 H515.8" stroke="#7c7c7c" stroke-width="1.6"/>
<path d="M502.79999999999995,369 H526.8" stroke="#7c7c7c" stroke-width="1.6"/>
<rect x="500.49999999999994" y="334" width="28.6" height="4.8" fill="url(#rimG)"/>
</g>
<ellipse cx="510.2" cy="134.3" rx="35.5" ry="26.5" transform="rotate(32 510.2 134.3)" fill="#030303"/>
<ellipse cx="493.8" cy="200.5" rx="35.2" ry="24.2" transform="rotate(4 493.8 200.5)" fill="#030303"/>
<ellipse cx="501.8" cy="267" rx="33.2" ry="23.8" transform="rotate(-14 501.8 267)" fill="#030303"/>
<rect x="496.5" y="125" width="9" height="23" rx="4.5" fill="#1fe41c"/>
<ellipse cx="521" cy="139.2" rx="7" ry="5" fill="#1fe41c"/>
<circle cx="484.5" cy="185" r="3.6" fill="#1fe41c"/>
<circle cx="496.6" cy="192.4" r="3.6" fill="#1fe41c"/>
<circle cx="493.1" cy="205.9" r="3.3" fill="#1fe41c"/>
<circle cx="500.3" cy="215.4" r="3.8" fill="#1fe41c"/>
<circle cx="494.5" cy="277.5" r="5" fill="#1fe41c"/><circle cx="498.5" cy="271" r="4.5" fill="#1fe41c"/><circle cx="504.5" cy="264.5" r="4.5" fill="#1fe41c"/>
<g>
<defs><linearGradient id="msG" x1="0" y1="0" x2="0" y2="1"><stop offset="0" stop-color="#f4f4f4"/><stop offset="0.55" stop-color="#b4b4b4"/><stop offset="1" stop-color="#555"/></linearGradient><linearGradient id="msA" x1="0" y1="0" x2="1" y2="0"><stop offset="0" stop-color="#6c6c6c"/><stop offset="0.5" stop-color="#e8e8e8"/><stop offset="1" stop-color="#7a7a7a"/></linearGradient></defs>
<path d="M576,172 Q596,186 592,206 Q590,216 584,222" stroke="#3c3c3c" stroke-width="10" fill="none" stroke-linecap="round"/>
<path d="M577.5,175 Q590,187 587.5,205 Q586.5,213 582.5,218" stroke="#a8a8a8" stroke-width="4.5" fill="none" stroke-linecap="round"/><path d="M577,176 Q588,187 586,204" stroke="#f0f0f0" stroke-width="1.6" fill="none" stroke-linecap="round"/>
<path d="M540,233 Q540,227 548,226 L560,225 Q566,214 578,214 Q592,216 593,230 Q594,239 586,239.5 L546,239.5 Q540,239.5 540,233 Z" fill="url(#msG)" stroke="#444" stroke-width="1"/>
<path d="M543,232 Q546,228.5 556,228" stroke="#ffffff" stroke-width="2.2" fill="none" stroke-linecap="round"/>
<path d="M543,238.5 L588,238.5" stroke="#4a4a4a" stroke-width="1.5"/>
<rect x="555" y="208" width="17" height="5" rx="2" fill="#1f1f1f"/>
<rect x="556" y="213" width="15" height="3" fill="#e6e6e6"/>
<rect x="555" y="216" width="17" height="8" rx="2" fill="#262626"/>
<path d="M541,201 Q548,197 562,197 L578,197 Q583,199 581,204 Q576,208 560,208 L546,208 Q540,206 541,201 Z" fill="#121212"/>
<path d="M545,200 Q555,198 576,198.5" stroke="#777" stroke-width="1"/>
<ellipse cx="564" cy="189" rx="11" ry="4.2" fill="#3c3c3c"/>
<ellipse cx="564" cy="187.8" rx="9.5" ry="3" fill="#d6d6d6"/>
<g transform="rotate(16 573 164)">
<rect x="567" y="141" width="12" height="46" fill="url(#msA)"/>
<rect x="566.5" y="140" width="13" height="6.5" fill="#2c2c2c"/>
<rect x="567" y="147" width="12" height="7" fill="#f6f6f6"/>
<rect x="567" y="163" width="12" height="8" fill="#1a1a1a"/>
<rect x="567" y="172" width="12" height="5" fill="#f0f0f0"/>
</g>
<circle cx="569" cy="165" r="3.6" fill="#111"/>
</g>
<g transform="translate(292.8,361.3)">
<line x1="4.7" y1="1.7" x2="9.9" y2="3.6" stroke="#bdbdbd" stroke-width="2"/>
<line x1="2.1" y1="4.5" x2="4.4" y2="9.5" stroke="#bdbdbd" stroke-width="2"/>
<line x1="-1.7" y1="4.7" x2="-3.6" y2="9.9" stroke="#bdbdbd" stroke-width="2"/>
<line x1="-4.5" y1="2.1" x2="-9.5" y2="4.4" stroke="#bdbdbd" stroke-width="2"/>
<line x1="-4.7" y1="-1.7" x2="-9.9" y2="-3.6" stroke="#bdbdbd" stroke-width="2"/>
<line x1="-2.1" y1="-4.5" x2="-4.4" y2="-9.5" stroke="#bdbdbd" stroke-width="2"/>
<line x1="1.7" y1="-4.7" x2="3.6" y2="-9.9" stroke="#bdbdbd" stroke-width="2"/>
<line x1="4.5" y1="-2.1" x2="9.5" y2="-4.4" stroke="#bdbdbd" stroke-width="2"/>
<ellipse cx="0" cy="1" rx="6.5" ry="6" fill="#b9bcc8"/><ellipse cx="-2" cy="0" rx="3" ry="3.5" fill="#e8e8ef"/>
<rect x="-1.6" y="-12" width="3.2" height="9" fill="#707070"/><path d="M2,5 l5,6" stroke="#404040" stroke-width="2"/>
</g>
<path d="M413,335.5 Q408,347 405.8,355 Q404,370 413,370.3 Q422,370 420.5,355 Q418.5,347 413,335.5 Z" fill="#a8c83a" stroke="#7d9a24" stroke-width="0.9"/>
<path d="M413,345 Q410,352 409,358 Q408.5,367 414,367.5 Q419,367 418.5,358 Q417.5,352 413,345 Z" fill="#dcedaa"/>
<ellipse cx="415" cy="361" rx="3.2" ry="4.5" fill="#fbfdf2"/>
<polygon points="539.4,357.9 539.4,379.7 562.2,374.8 552.9,387.5 577.1,387.7 558.0,397.3 582.1,406.6 554.5,406.8 560.2,415.6 547.3,412.7 561.2,428.5 539.1,416.4 538.4,424.5 522.1,419.8 504.6,437.4 500.5,418.5 486.7,423.5 485.0,412.9 466.9,413.6 477.4,406.6 452.9,409.6 474.5,401.2 467.8,397.7 474.4,395.2 452.9,388.7 477.8,388.9 470.8,379.8 483.3,384.2 454.9,364.9 490.6,380.5 492.7,371.9 501.3,377.4 503.8,368.5 517.9,376.0" fill="#f6b10d" stroke="#e39400" stroke-width="1.3" stroke-linejoin="miter"/>
<text x="515.3" y="401" text-anchor="middle" style="font-size:27px;font-weight:bold;fill:#0e0e0e">Light</text>
<g>
<defs><clipPath id="clip637"><rect x="637.3" y="12.8" width="255.70000000000005" height="188.89999999999998"/></clipPath></defs>
<g clip-path="url(#clip637)">
<line x1="594.7" y1="255.3" x2="935.6" y2="38.7" stroke="#111" stroke-width="1.3"/>
<line x1="594.7" y1="245.8" x2="935.6" y2="28.2" stroke="#d42a30" stroke-width="1.3"/>
<line x1="594.7" y1="214.4" x2="935.6" y2="2.1" stroke="#1f2aa8" stroke-width="1.3"/>
</g>
<path d="M698.4,183.8h4M700.4,183.8V188.2M698.4,188.2h4" stroke="#111" stroke-width="0.7" opacity="0.6"/>
<rect x="697.8" y="183.4" width="5.2" height="5.2" fill="#111"/>
<path d="M741.0,158.9h4M743.0,158.9V165.2M741.0,165.2h4" stroke="#111" stroke-width="0.7" opacity="0.6"/>
<rect x="740.4" y="159.4" width="5.2" height="5.2" fill="#111"/>
<path d="M783.2,136.8h4M785.2,136.8V145.0M783.2,145.0h4" stroke="#111" stroke-width="0.7" opacity="0.6"/>
<rect x="782.6" y="138.3" width="5.2" height="5.2" fill="#111"/>
<path d="M826.2,107.2h4M828.2,107.2V110.4M826.2,110.4h4" stroke="#111" stroke-width="0.7" opacity="0.6"/>
<rect x="825.6" y="106.2" width="5.2" height="5.2" fill="#111"/>
<path d="M868.8,72.9h4M870.8,72.9V76.1M868.8,76.1h4" stroke="#111" stroke-width="0.7" opacity="0.6"/>
<rect x="868.2" y="71.9" width="5.2" height="5.2" fill="#111"/>
<path d="M690.7,186.3h4M692.7,186.3V189.4M690.7,189.4h4" stroke="#e02020" stroke-width="0.7" opacity="0.6"/>
<circle cx="692.7" cy="187.8" r="2.9" fill="#e02020"/>
<path d="M733.3,150.1h4M735.3,150.1V155.1M733.3,155.1h4" stroke="#e02020" stroke-width="0.7" opacity="0.6"/>
<circle cx="735.3" cy="152.6" r="2.9" fill="#e02020"/>
<path d="M776.4,116.1h4M778.4,116.1V125.5M776.4,125.5h4" stroke="#e02020" stroke-width="0.7" opacity="0.6"/>
<circle cx="778.4" cy="120.8" r="2.9" fill="#e02020"/>
<path d="M819.0,104.7h4M821.0,104.7V107.9M819.0,107.9h4" stroke="#e02020" stroke-width="0.7" opacity="0.6"/>
<circle cx="821.0" cy="106.3" r="2.9" fill="#e02020"/>
<path d="M861.2,72.0h4M863.2,72.0V77.0M861.2,77.0h4" stroke="#e02020" stroke-width="0.7" opacity="0.6"/>
<circle cx="863.2" cy="74.5" r="2.9" fill="#e02020"/>
<path d="M660.4,170.5h4M662.4,170.5V174.9M660.4,174.9h4" stroke="#1a2ccc" stroke-width="0.7" opacity="0.6"/>
<path d="M662.4,169.3L665.7,175.3L659.1,175.3Z" fill="#1a2ccc"/>
<path d="M703.1,145.3h4M705.1,145.3V148.5M703.1,148.5h4" stroke="#1a2ccc" stroke-width="0.7" opacity="0.6"/>
<path d="M705.1,143.5L708.4,149.5L701.8,149.5Z" fill="#1a2ccc"/>
<path d="M746.1,113.5h4M748.1,113.5V121.1M746.1,121.1h4" stroke="#1a2ccc" stroke-width="0.7" opacity="0.6"/>
<path d="M748.1,113.9L751.4,119.9L744.8,119.9Z" fill="#1a2ccc"/>
<path d="M788.7,79.2h4M790.7,79.2V88.7M788.7,88.7h4" stroke="#1a2ccc" stroke-width="0.7" opacity="0.6"/>
<path d="M790.7,80.6L794.0,86.6L787.4,86.6Z" fill="#1a2ccc"/>
<path d="M831.3,65.7h4M833.3,65.7V73.2M831.3,73.2h4" stroke="#1a2ccc" stroke-width="0.7" opacity="0.6"/>
<path d="M833.3,66.1L836.6,72.1L830.0,72.1Z" fill="#1a2ccc"/>
<rect x="637.3" y="12.8" width="255.70000000000005" height="188.89999999999998" fill="none" stroke="#1e1e1e" stroke-width="1.4"/>
<line x1="633.3" y1="201.7" x2="637.3" y2="201.7" stroke="#1e1e1e" stroke-width="1.2"/>
<text x="630.8" y="204.7" text-anchor="end" class="tk">0</text>
<line x1="637.3" y1="201.7" x2="637.3" y2="205.7" stroke="#1e1e1e" stroke-width="1.2"/>
<text x="637.3" y="215.2" text-anchor="middle" class="tk">0</text>
<line x1="633.3" y1="170.2" x2="637.3" y2="170.2" stroke="#1e1e1e" stroke-width="1.2"/>
<text x="630.8" y="173.2" text-anchor="end" class="tk">1</text>
<line x1="679.9" y1="201.7" x2="679.9" y2="205.7" stroke="#1e1e1e" stroke-width="1.2"/>
<text x="679.9" y="215.2" text-anchor="middle" class="tk">1</text>
<line x1="633.3" y1="138.7" x2="637.3" y2="138.7" stroke="#1e1e1e" stroke-width="1.2"/>
<text x="630.8" y="141.7" text-anchor="end" class="tk">2</text>
<line x1="722.5" y1="201.7" x2="722.5" y2="205.7" stroke="#1e1e1e" stroke-width="1.2"/>
<text x="722.5" y="215.2" text-anchor="middle" class="tk">2</text>
<line x1="633.3" y1="107.2" x2="637.3" y2="107.2" stroke="#1e1e1e" stroke-width="1.2"/>
<text x="630.8" y="110.2" text-anchor="end" class="tk">3</text>
<line x1="765.1" y1="201.7" x2="765.1" y2="205.7" stroke="#1e1e1e" stroke-width="1.2"/>
<text x="765.1" y="215.2" text-anchor="middle" class="tk">3</text>
<line x1="633.3" y1="75.8" x2="637.3" y2="75.8" stroke="#1e1e1e" stroke-width="1.2"/>
<text x="630.8" y="78.8" text-anchor="end" class="tk">4</text>
<line x1="807.8" y1="201.7" x2="807.8" y2="205.7" stroke="#1e1e1e" stroke-width="1.2"/>
<text x="807.8" y="215.2" text-anchor="middle" class="tk">4</text>
<line x1="633.3" y1="44.3" x2="637.3" y2="44.3" stroke="#1e1e1e" stroke-width="1.2"/>
<text x="630.8" y="47.3" text-anchor="end" class="tk">5</text>
<line x1="850.4" y1="201.7" x2="850.4" y2="205.7" stroke="#1e1e1e" stroke-width="1.2"/>
<text x="850.4" y="215.2" text-anchor="middle" class="tk">5</text>
<line x1="633.3" y1="12.8" x2="637.3" y2="12.8" stroke="#1e1e1e" stroke-width="1.2"/>
<text x="630.8" y="15.8" text-anchor="end" class="tk">6</text>
<line x1="893.0" y1="201.7" x2="893.0" y2="205.7" stroke="#1e1e1e" stroke-width="1.2"/>
<text x="893.0" y="215.2" text-anchor="middle" class="tk">6</text>
<line x1="647.5" y1="25.2" x2="672.8" y2="25.2" stroke="#111" stroke-width="2"/>
<text x="677.9" y="28.8" class="lg">E. coli</text>
<line x1="647.5" y1="38.6" x2="672.8" y2="38.6" stroke="#d42a30" stroke-width="2"/>
<text x="677.9" y="42.2" class="lg">S. aureus</text>
<line x1="647.5" y1="52.0" x2="672.8" y2="52.0" stroke="#1f2aa8" stroke-width="2"/>
<text x="677.9" y="55.6" class="lg">C. albicans</text>
<text transform="translate(619.5,98.6) rotate(-90)" text-anchor="middle" class="al">Log (RLU)</text>
<text x="765.6" y="227.3" text-anchor="middle" class="al">Log (CFU)</text>
</g>
<g>
<defs><clipPath id="clip939"><rect x="939.5" y="12.5" width="256.5" height="189.0"/></clipPath></defs>
<g clip-path="url(#clip939)">
<line x1="896.8" y1="266.2" x2="1238.8" y2="17.3" stroke="#111" stroke-width="1.3"/>
<line x1="896.8" y1="256.5" x2="1238.8" y2="4.5" stroke="#d42a30" stroke-width="1.3"/>
<line x1="896.8" y1="228.8" x2="1238.8" y2="-37.8" stroke="#1f2aa8" stroke-width="1.3"/>
</g>
<path d="M1017.4,175.4h4M1019.4,175.4V179.1M1017.4,179.1h4" stroke="#111" stroke-width="0.7" opacity="0.6"/>
<rect x="1016.8" y="174.6" width="5.2" height="5.2" fill="#111"/>
<path d="M1043.9,153.3h4M1045.9,153.3V158.3M1043.9,158.3h4" stroke="#111" stroke-width="0.7" opacity="0.6"/>
<rect x="1043.3" y="153.2" width="5.2" height="5.2" fill="#111"/>
<path d="M1086.3,125.3h4M1088.3,125.3V131.6M1086.3,131.6h4" stroke="#111" stroke-width="0.7" opacity="0.6"/>
<rect x="1085.7" y="125.8" width="5.2" height="5.2" fill="#111"/>
<path d="M1129.4,92.5h4M1131.4,92.5V98.8M1129.4,98.8h4" stroke="#111" stroke-width="0.7" opacity="0.6"/>
<rect x="1128.8" y="93.1" width="5.2" height="5.2" fill="#111"/>
<path d="M1171.8,59.7h4M1173.8,59.7V66.0M1171.8,66.0h4" stroke="#111" stroke-width="0.7" opacity="0.6"/>
<rect x="1171.2" y="60.3" width="5.2" height="5.2" fill="#111"/>
<path d="M1009.3,171.3h4M1011.3,171.3V176.3M1009.3,176.3h4" stroke="#e02020" stroke-width="0.7" opacity="0.6"/>
<circle cx="1011.3" cy="173.8" r="2.9" fill="#e02020"/>
<path d="M1035.4,147.0h4M1037.4,147.0V153.3M1035.4,153.3h4" stroke="#e02020" stroke-width="0.7" opacity="0.6"/>
<circle cx="1037.4" cy="150.2" r="2.9" fill="#e02020"/>
<path d="M1078.6,118.3h4M1080.6,118.3V123.4M1078.6,123.4h4" stroke="#e02020" stroke-width="0.7" opacity="0.6"/>
<circle cx="1080.6" cy="120.9" r="2.9" fill="#e02020"/>
<path d="M1121.3,84.0h4M1123.3,84.0V90.3M1121.3,90.3h4" stroke="#e02020" stroke-width="0.7" opacity="0.6"/>
<circle cx="1123.3" cy="87.2" r="2.9" fill="#e02020"/>
<path d="M1164.1,56.9h4M1166.1,56.9V60.7M1164.1,60.7h4" stroke="#e02020" stroke-width="0.7" opacity="0.6"/>
<circle cx="1166.1" cy="58.8" r="2.9" fill="#e02020"/>
<path d="M980.2,160.5h4M982.2,160.5V166.8M980.2,166.8h4" stroke="#1a2ccc" stroke-width="0.7" opacity="0.6"/>
<path d="M982.2,160.3L985.5,166.3L979.0,166.3Z" fill="#1a2ccc"/>
<path d="M1005.5,140.7h4M1007.5,140.7V144.5M1005.5,144.5h4" stroke="#1a2ccc" stroke-width="0.7" opacity="0.6"/>
<path d="M1007.5,139.2L1010.8,145.2L1004.2,145.2Z" fill="#1a2ccc"/>
<path d="M1048.7,99.4h4M1050.7,99.4V107.0M1048.7,107.0h4" stroke="#1a2ccc" stroke-width="0.7" opacity="0.6"/>
<path d="M1050.7,99.8L1054.0,105.8L1047.4,105.8Z" fill="#1a2ccc"/>
<path d="M1091.0,70.1h4M1093.0,70.1V76.4M1091.0,76.4h4" stroke="#1a2ccc" stroke-width="0.7" opacity="0.6"/>
<path d="M1093.0,69.9L1096.3,75.9L1089.7,75.9Z" fill="#1a2ccc"/>
<path d="M1133.7,40.2h4M1135.7,40.2V47.8M1133.7,47.8h4" stroke="#1a2ccc" stroke-width="0.7" opacity="0.6"/>
<path d="M1135.7,40.6L1139.0,46.6L1132.4,46.6Z" fill="#1a2ccc"/>
<rect x="939.5" y="12.5" width="256.5" height="189.0" fill="none" stroke="#1e1e1e" stroke-width="1.4"/>
<line x1="935.5" y1="201.5" x2="939.5" y2="201.5" stroke="#1e1e1e" stroke-width="1.2"/>
<text x="933.0" y="204.5" text-anchor="end" class="tk">0</text>
<line x1="939.5" y1="201.5" x2="939.5" y2="205.5" stroke="#1e1e1e" stroke-width="1.2"/>
<text x="939.5" y="215.0" text-anchor="middle" class="tk">0</text>
<line x1="935.5" y1="170.0" x2="939.5" y2="170.0" stroke="#1e1e1e" stroke-width="1.2"/>
<text x="933.0" y="173.0" text-anchor="end" class="tk">1</text>
<line x1="982.2" y1="201.5" x2="982.2" y2="205.5" stroke="#1e1e1e" stroke-width="1.2"/>
<text x="982.2" y="215.0" text-anchor="middle" class="tk">1</text>
<line x1="935.5" y1="138.5" x2="939.5" y2="138.5" stroke="#1e1e1e" stroke-width="1.2"/>
<text x="933.0" y="141.5" text-anchor="end" class="tk">2</text>
<line x1="1025.0" y1="201.5" x2="1025.0" y2="205.5" stroke="#1e1e1e" stroke-width="1.2"/>
<text x="1025.0" y="215.0" text-anchor="middle" class="tk">2</text>
<line x1="935.5" y1="107.0" x2="939.5" y2="107.0" stroke="#1e1e1e" stroke-width="1.2"/>
<text x="933.0" y="110.0" text-anchor="end" class="tk">3</text>
<line x1="1067.8" y1="201.5" x2="1067.8" y2="205.5" stroke="#1e1e1e" stroke-width="1.2"/>
<text x="1067.8" y="215.0" text-anchor="middle" class="tk">3</text>
<line x1="935.5" y1="75.5" x2="939.5" y2="75.5" stroke="#1e1e1e" stroke-width="1.2"/>
<text x="933.0" y="78.5" text-anchor="end" class="tk">4</text>
<line x1="1110.5" y1="201.5" x2="1110.5" y2="205.5" stroke="#1e1e1e" stroke-width="1.2"/>
<text x="1110.5" y="215.0" text-anchor="middle" class="tk">4</text>
<line x1="935.5" y1="44.0" x2="939.5" y2="44.0" stroke="#1e1e1e" stroke-width="1.2"/>
<text x="933.0" y="47.0" text-anchor="end" class="tk">5</text>
<line x1="1153.2" y1="201.5" x2="1153.2" y2="205.5" stroke="#1e1e1e" stroke-width="1.2"/>
<text x="1153.2" y="215.0" text-anchor="middle" class="tk">5</text>
<line x1="935.5" y1="12.5" x2="939.5" y2="12.5" stroke="#1e1e1e" stroke-width="1.2"/>
<text x="933.0" y="15.5" text-anchor="end" class="tk">6</text>
<line x1="1196.0" y1="201.5" x2="1196.0" y2="205.5" stroke="#1e1e1e" stroke-width="1.2"/>
<text x="1196.0" y="215.0" text-anchor="middle" class="tk">6</text>
<line x1="950.6" y1="24.8" x2="975.9" y2="24.8" stroke="#111" stroke-width="2"/>
<text x="981.0" y="28.400000000000002" class="lg">E. coli <tspan class="n">+ SGFM</tspan></text>
<line x1="950.6" y1="38.2" x2="975.9" y2="38.2" stroke="#d42a30" stroke-width="2"/>
<text x="981.0" y="41.800000000000004" class="lg">S. aureus <tspan class="n">+ SGFM</tspan></text>
<line x1="950.6" y1="51.6" x2="975.9" y2="51.6" stroke="#1f2aa8" stroke-width="2"/>
<text x="981.0" y="55.2" class="lg">C. albicans <tspan class="n">+ SGFM</tspan></text>
<text transform="translate(921.5,98.5) rotate(-90)" text-anchor="middle" class="al">Log (RLU)</text>
<text x="1067.5" y="227.3" text-anchor="middle" class="al">Log (CFU)</text>
</g>
<g>
<rect x="659.7" y="331.2" width="19.5" height="91.4" fill="url(#hatchT)" stroke="#2fd6cf" stroke-width="0.6"/>
<rect x="682.6" y="378.5" width="20.0" height="44.1" fill="url(#hatchG)"/>
<path d="M667.3,323.7h4.4M669.5,323.7V338.7M667.3,338.7h4.4" stroke="#444" stroke-width="0.8" fill="none"/>
<path d="M690.2,371.9h4.4M692.4,371.9V385.0M690.2,385.0h4.4" stroke="#444" stroke-width="0.8" fill="none"/>
<line x1="680.9" y1="422.6" x2="680.9" y2="426.6" stroke="#1e1e1e" stroke-width="1.2"/>
<rect x="745.5" y="268.0" width="19.5" height="154.6" fill="url(#hatchT)" stroke="#2fd6cf" stroke-width="0.6"/>
<rect x="768.5" y="321.2" width="20.0" height="101.4" fill="url(#hatchG)"/>
<path d="M753.1,250.5h4.4M755.3,250.5V285.5M753.1,285.5h4.4" stroke="#444" stroke-width="0.8" fill="none"/>
<path d="M776.0,303.7h4.4M778.2,303.7V338.7M776.0,338.7h4.4" stroke="#444" stroke-width="0.8" fill="none"/>
<line x1="766.8" y1="422.6" x2="766.8" y2="426.6" stroke="#1e1e1e" stroke-width="1.2"/>
<rect x="831.4" y="312.6" width="19.5" height="110.0" fill="url(#hatchT)" stroke="#2fd6cf" stroke-width="0.6"/>
<rect x="854.3" y="344.4" width="20.0" height="78.2" fill="url(#hatchG)"/>
<path d="M838.9,300.1h4.4M841.1,300.1V325.1M838.9,325.1h4.4" stroke="#444" stroke-width="0.8" fill="none"/>
<path d="M861.8,334.6h4.4M864.0,334.6V354.1M861.8,354.1h4.4" stroke="#444" stroke-width="0.8" fill="none"/>
<line x1="852.6" y1="422.6" x2="852.6" y2="426.6" stroke="#1e1e1e" stroke-width="1.2"/>
<rect x="638" y="234.8" width="257.5" height="187.8" fill="none" stroke="#1e1e1e" stroke-width="1.4"/>
<line x1="634" y1="422.6" x2="638" y2="422.6" stroke="#1e1e1e" stroke-width="1.2"/>
<text x="631.5" y="425.6" text-anchor="end" class="tk">0</text>
<line x1="635" y1="391.3" x2="638" y2="391.3" stroke="#1e1e1e" stroke-width="1.2"/>
<line x1="634" y1="360.0" x2="638" y2="360.0" stroke="#1e1e1e" stroke-width="1.2"/>
<text x="631.5" y="363.0" text-anchor="end" class="tk">1</text>
<line x1="635" y1="328.7" x2="638" y2="328.7" stroke="#1e1e1e" stroke-width="1.2"/>
<line x1="634" y1="297.4" x2="638" y2="297.4" stroke="#1e1e1e" stroke-width="1.2"/>
<text x="631.5" y="300.4" text-anchor="end" class="tk">2</text>
<line x1="635" y1="266.1" x2="638" y2="266.1" stroke="#1e1e1e" stroke-width="1.2"/>
<line x1="634" y1="234.8" x2="638" y2="234.8" stroke="#1e1e1e" stroke-width="1.2"/>
<text x="631.5" y="237.8" text-anchor="end" class="tk">3</text>
<rect x="655" y="244.0" width="23.2" height="9" fill="url(#hatchT)" stroke="#3fdcd0" stroke-width="0.7"/>
<text x="681.8" y="251.6" class="lg2">SGFM</text>
<rect x="655" y="257.1" width="23.2" height="9" fill="url(#hatchG)"/>
<text x="681.8" y="264.70000000000005" class="lg2">C-FM</text>
<text transform="translate(619.8,327) rotate(-90)" text-anchor="middle" class="al">Log (RLU)</text>
<text x="672.2" y="441" text-anchor="middle" class="cat">S. aureus</text>
<text x="758.0" y="441" text-anchor="middle" class="cat">C. albicans</text>
<text x="851.8" y="441" text-anchor="middle" class="cat">Mixed microbes</text>
</g>
<g>
<rect x="950.5" y="359.4" width="19" height="62.4" fill="url(#hatchT)" stroke="#2fd6cf" stroke-width="0.6"/>
<rect x="974.7" y="369.6" width="19.5" height="52.2" fill="url(#hatchG)"/>
<path d="M957.8,354.9h4.4M960.0,354.9V363.8M957.8,363.8h4.4" stroke="#444" stroke-width="0.8" fill="none"/>
<path d="M982.0,364.0h4.4M984.2,364.0V375.1M982.0,375.1h4.4" stroke="#444" stroke-width="0.8" fill="none"/>
<line x1="972.1" y1="421.8" x2="972.1" y2="425.8" stroke="#1e1e1e" stroke-width="1.2"/>
<rect x="1013.6" y="325.7" width="19" height="96.1" fill="url(#hatchT)" stroke="#2fd6cf" stroke-width="0.6"/>
<rect x="1037.8" y="329.6" width="19.5" height="92.2" fill="url(#hatchG)"/>
<path d="M1020.9,322.7h4.4M1023.1,322.7V328.6M1020.9,328.6h4.4" stroke="#444" stroke-width="0.8" fill="none"/>
<path d="M1045.1,325.5h4.4M1047.3,325.5V333.6M1045.1,333.6h4.4" stroke="#444" stroke-width="0.8" fill="none"/>
<line x1="1035.2" y1="421.8" x2="1035.2" y2="425.8" stroke="#1e1e1e" stroke-width="1.2"/>
<rect x="1076.7" y="289.9" width="19" height="131.9" fill="url(#hatchT)" stroke="#2fd6cf" stroke-width="0.6"/>
<rect x="1100.9" y="291.8" width="19.5" height="130.0" fill="url(#hatchG)"/>
<path d="M1084.0,285.5h4.4M1086.2,285.5V294.4M1084.0,294.4h4.4" stroke="#444" stroke-width="0.8" fill="none"/>
<path d="M1108.2,285.1h4.4M1110.4,285.1V298.5M1108.2,298.5h4.4" stroke="#444" stroke-width="0.8" fill="none"/>
<line x1="1098.3" y1="421.8" x2="1098.3" y2="425.8" stroke="#1e1e1e" stroke-width="1.2"/>
<rect x="1139.8" y="247.3" width="19" height="174.5" fill="url(#hatchT)" stroke="#2fd6cf" stroke-width="0.6"/>
<rect x="1164.0" y="248.6" width="19.5" height="173.2" fill="url(#hatchG)"/>
<path d="M1147.1,242.5h4.4M1149.3,242.5V252.2M1147.1,252.2h4.4" stroke="#444" stroke-width="0.8" fill="none"/>
<path d="M1171.3,241.2h4.4M1173.5,241.2V256.0M1171.3,256.0h4.4" stroke="#444" stroke-width="0.8" fill="none"/>
<line x1="1161.4" y1="421.8" x2="1161.4" y2="425.8" stroke="#1e1e1e" stroke-width="1.2"/>
<rect x="940.5" y="236.6" width="252.5" height="185.20000000000002" fill="none" stroke="#1e1e1e" stroke-width="1.4"/>
<line x1="936.5" y1="421.8" x2="940.5" y2="421.8" stroke="#1e1e1e" stroke-width="1.2"/>
<text x="934.0" y="424.8" text-anchor="end" class="tk">0</text>
<line x1="937.5" y1="403.3" x2="940.5" y2="403.3" stroke="#1e1e1e" stroke-width="1.2"/>
<line x1="936.5" y1="384.8" x2="940.5" y2="384.8" stroke="#1e1e1e" stroke-width="1.2"/>
<text x="934.0" y="387.8" text-anchor="end" class="tk">1</text>
<line x1="937.5" y1="366.2" x2="940.5" y2="366.2" stroke="#1e1e1e" stroke-width="1.2"/>
<line x1="936.5" y1="347.7" x2="940.5" y2="347.7" stroke="#1e1e1e" stroke-width="1.2"/>
<text x="934.0" y="350.7" text-anchor="end" class="tk">2</text>
<line x1="937.5" y1="329.2" x2="940.5" y2="329.2" stroke="#1e1e1e" stroke-width="1.2"/>
<line x1="936.5" y1="310.7" x2="940.5" y2="310.7" stroke="#1e1e1e" stroke-width="1.2"/>
<text x="934.0" y="313.7" text-anchor="end" class="tk">3</text>
<line x1="937.5" y1="292.2" x2="940.5" y2="292.2" stroke="#1e1e1e" stroke-width="1.2"/>
<line x1="936.5" y1="273.6" x2="940.5" y2="273.6" stroke="#1e1e1e" stroke-width="1.2"/>
<text x="934.0" y="276.6" text-anchor="end" class="tk">4</text>
<line x1="937.5" y1="255.1" x2="940.5" y2="255.1" stroke="#1e1e1e" stroke-width="1.2"/>
<line x1="936.5" y1="236.6" x2="940.5" y2="236.6" stroke="#1e1e1e" stroke-width="1.2"/>
<text x="934.0" y="239.6" text-anchor="end" class="tk">5</text>
<rect x="958" y="246.2" width="23.2" height="9" fill="url(#hatchT)" stroke="#3fdcd0" stroke-width="0.7"/>
<text x="984.8" y="253.79999999999998" class="lg2">ATP assay</text>
<rect x="958" y="259.3" width="23.2" height="9" fill="url(#hatchG)"/>
<text x="984.8" y="266.90000000000003" class="lg2">Culture plate</text>
<text transform="translate(922.5,325.4) rotate(-90)" text-anchor="middle" class="al">Log(Amount, CFU)</text>
<text x="965.6" y="437.5" style="font-size:11.5px;font-weight:bold;fill:#222">10<tspan dy="-5.5" style="font-size:7.5px">4</tspan></text>
<text x="1028.7" y="437.5" style="font-size:11.5px;font-weight:bold;fill:#222">10<tspan dy="-5.5" style="font-size:7.5px">5</tspan></text>
<text x="1091.8" y="437.5" style="font-size:11.5px;font-weight:bold;fill:#222">10<tspan dy="-5.5" style="font-size:7.5px">6</tspan></text>
<text x="1154.9" y="437.5" style="font-size:11.5px;font-weight:bold;fill:#222">10<tspan dy="-5.5" style="font-size:7.5px">7</tspan></text>
</g>
<text x="1068.7" y="450" text-anchor="middle" class="al">Concentration (CFU/mL)</text>
</svg></body></html>
